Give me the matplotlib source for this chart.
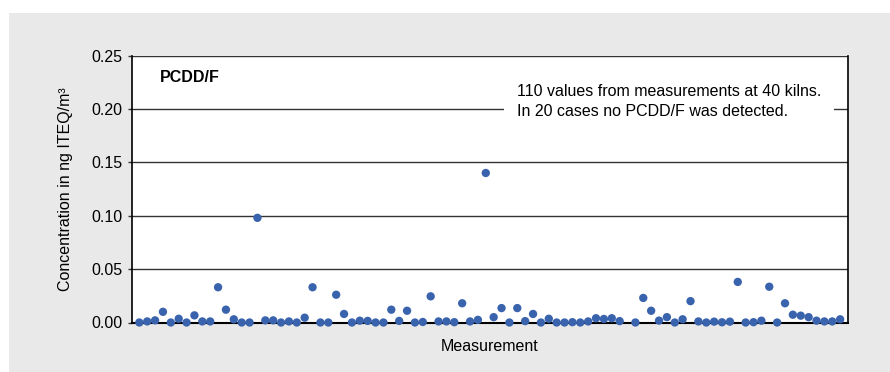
import numpy as np
import matplotlib
matplotlib.use("Agg")
import matplotlib.pyplot as plt
from matplotlib.patches import Rectangle

plt.rcParams['font.family'] = ['Liberation Sans', 'DejaVu Sans']

# Data (ng ITEQ/m3), one value per measurement position; NaN = no point
values = [
    0.000, 0.001, 0.002, 0.010, 0.000, 0.0035, 0.000, 0.0067, 0.001, 0.001,
    0.033, 0.012, 0.003, 0.000, 0.000, 0.098, 0.002, 0.002, 0.000, 0.001,
    0.000, 0.0045, 0.033, 0.000, 0.000, 0.026, 0.008, 0.000, 0.0017, 0.0015,
    0.000, 0.000, 0.012, 0.0015, 0.011, 0.000, 0.0005, 0.0245, 0.001, 0.001,
    0.0003, 0.018, 0.001, 0.0025, 0.140, 0.005, 0.0135, 0.000, 0.0135, 0.0013,
    0.008, 0.000, 0.0035, 0.000, 0.000, 0.0003, 0.000, 0.001, 0.004, 0.0033,
    0.004, 0.0013, np.nan, 0.000, 0.023, 0.011, 0.0018, 0.005, 0.000, 0.003,
    0.020, 0.001, 0.000, 0.0008, 0.0002, 0.0008, 0.038, 0.000, 0.0003, 0.0017,
    0.0335, 0.000, 0.018, 0.0073, 0.0064, 0.005, 0.0017, 0.001, 0.001, 0.003,
]
positions = list(range(len(values)))
yticks = [0.00, 0.05, 0.10, 0.15, 0.20, 0.25]
ytick_labels = ["0.00", "0.05", "0.10", "0.15", "0.20", "0.25"]

title_text = "PCDD/F"
note_text = "110 values from measurements at 40 kilns.\nIn 20 cases no PCDD/F was detected."

W, H = 890, 372
fig = plt.figure(figsize=(W / 100, H / 100), dpi=100, facecolor='white')
# grey panel background
bg = Rectangle((9 / W, 0), 1 - 9 / W, 1 - 13 / H, transform=fig.transFigure,
               facecolor='#e9e9e9', edgecolor='none', zorder=-10)
fig.add_artist(bg)

ax = fig.add_axes([132 / W, 1 - 322.5 / H, (848 - 132) / W, (322.5 - 55.5) / H])
ax.set_zorder(1)
ax.set_facecolor('white')

ax.scatter(positions, values, s=36, color='#3a63ad', edgecolors='none', zorder=5, clip_on=False)

ax.set_xlim(-0.93, 90.0)
ax.set_ylim(0, 0.25)
ax.set_yticks(yticks)
ax.set_yticklabels(ytick_labels)
ax.set_xticks([])

ax.yaxis.grid(True, color='#333333', linewidth=1.0)
ax.set_axisbelow(True)

ax.spines['top'].set_visible(False)
ax.spines['left'].set_color('black')
ax.spines['bottom'].set_color('black')
ax.spines['right'].set_color('black')
ax.spines['left'].set_linewidth(1.2)
ax.spines['bottom'].set_linewidth(1.5)
ax.spines['right'].set_linewidth(1.2)

ax.tick_params(axis='y', length=3, width=1, color='#333333', labelsize=11.5, pad=4)

ax.set_ylabel("Concentration in ng ITEQ/m³", fontsize=11.5, labelpad=13)
ax.set_xlabel("Measurement", fontsize=11.5, labelpad=12)

ax.text(0.039, 0.916, title_text, transform=ax.transAxes, fontsize=11.5, fontweight='bold',
        ha='left', va='center')
ax.text(0.538, 0.828, note_text, transform=ax.transAxes, fontsize=11.5, ha='left', va='center',
        linespacing=1.4,
        bbox=dict(facecolor='white', edgecolor='none', boxstyle='square,pad=0.8'), zorder=3)

fig.savefig("out.png", dpi=100, facecolor=fig.get_facecolor())
